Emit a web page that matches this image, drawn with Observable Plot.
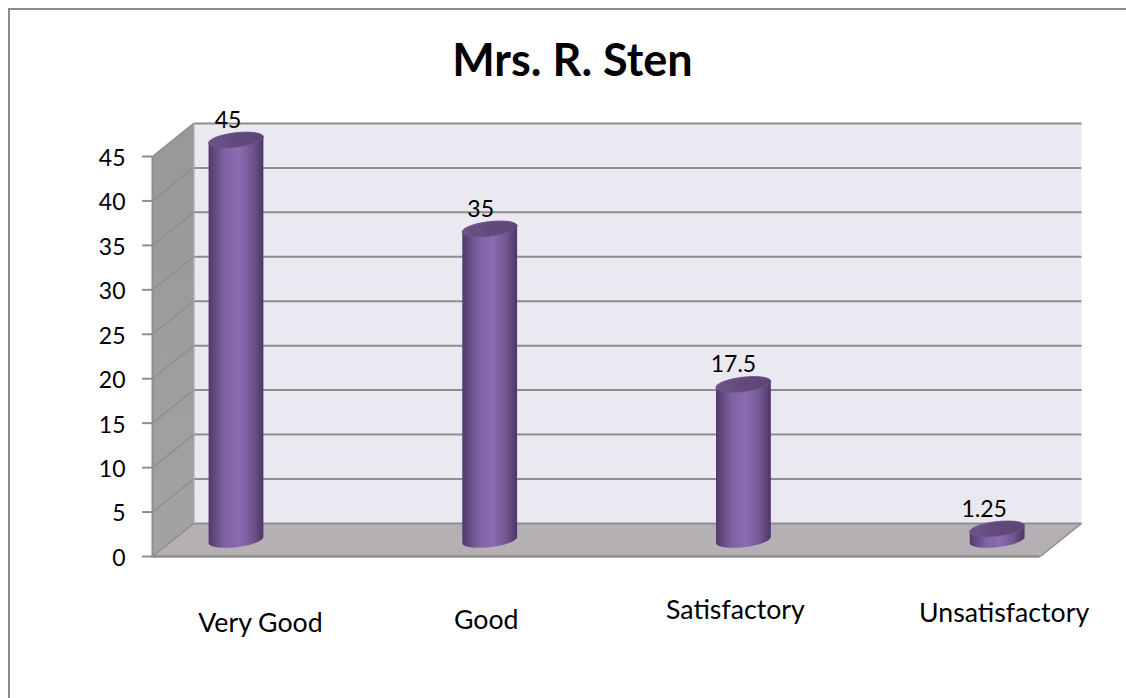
<!DOCTYPE html>
<html><head><meta charset="utf-8">
<script src="https://cdn.jsdelivr.net/npm/d3@7"></script>
<script src="https://cdn.jsdelivr.net/npm/@observablehq/plot@0.6"></script>
<style>
html,body{margin:0;padding:0;background:#fff;overflow:hidden}
#page{position:relative;width:1126px;height:698px}
#edge{position:absolute;left:8px;top:8px;right:0;bottom:0;border-left:2px solid #8a8a8a;border-top:2px solid #8a8a8a}
#chart{position:absolute;left:0;top:0}
svg{display:block}
</style></head><body>
<div id="page"><div id="chart"></div><div id="edge"></div></div>
<script>
const chartTitle = "Mrs. R. Sten";
const categories = ["Very Good", "Good", "Satisfactory", "Unsatisfactory"];
const values = [45, 35, 17.5, 1.25];
const valueLabels = ["45", "35", "17.5", "1.25"];
const yTicks = [0, 5, 10, 15, 20, 25, 30, 35, 40, 45];

// 3-D box, in data units (x: category index, y: value)
const xL = -0.329, xR = 3.17;
const depthX = 0.1625, depthY = 3.72;
const yMax = 45;
const rx = 0.108, ryV = 0.82, tilt = 0.34;
const midY = depthY / 2;

const poly = pts => pts.map(([x, y]) => ({x, y}));
const thetas = d3.range(0, 73).map(i => i * Math.PI / 36);
const ell = (cx, cy, t) => ({x: cx + rx * Math.cos(t), y: cy + tilt * Math.cos(t) + ryV * Math.sin(t)});
const cap = (i, v) => thetas.map(t => ell(i, v + midY, t));
const body = (i, v) => {
  const lower = thetas.filter(t => t >= Math.PI).map(t => ell(i, midY, t));
  const upper = thetas.filter(t => t <= Math.PI).map(t => ell(i, v + midY, t));
  return [...upper, ...lower];
};

const defs = () => {
  const d = d3.create("svg:defs");
  const grad = (id, stops) => {
    const g = d.append("linearGradient").attr("id", id).attr("x1", 0).attr("x2", 1).attr("y1", 0).attr("y2", 0);
    stops.forEach(([o, c]) => g.append("stop").attr("offset", o).attr("stop-color", c));
  };
  grad("cyl", [[0, "#4f3a6a"], [0.1, "#60497e"], [0.3, "#8062a4"], [0.55, "#8c6bb1"], [0.78, "#745894"], [1, "#4c3766"]]);
  grad("capg", [[0, "#6d5489"], [0.5, "#62497d"], [1, "#5d4677"]]);
  const w = d.append("linearGradient").attr("id", "wall").attr("x1", 0).attr("x2", 0).attr("y1", 0).attr("y2", 1);
  [[0, "#989898"], [1, "#a4a2a4"]].forEach(([o, c]) => w.append("stop").attr("offset", o).attr("stop-color", c));
  return d.node();
};

const gridStroke = "#8e8e8e";
const txt = {fontFamily: "Lato, 'Open Sans', sans-serif"};
const labelShift = {dx: [24.5, -3.5, -8, 7], dy: [67, 64, 54, 57]};
const valueShift = [-8, -9, -10, -13];

const plot = Plot.plot({
  width: 1126, height: 698,
  marginLeft: 0, marginRight: 0, marginTop: 0, marginBottom: 0,
  x: {type: "linear", domain: [xL, xR + depthX], range: [152, 1081], axis: null},
  y: {type: "linear", domain: [0, yMax], range: [556, 156], axis: null},
  style: {background: "transparent", ...txt},
  marks: [
    defs,
    // back wall, side wall, floor
    Plot.line(poly([[xL + depthX, depthY], [xR + depthX, depthY], [xR + depthX, yMax + depthY], [xL + depthX, yMax + depthY]]), {x: "x", y: "y", fill: "#eae8f0", stroke: "none"}),
    Plot.line(poly([[xL, 0], [xL + depthX, depthY], [xL + depthX, yMax + depthY], [xL, yMax]]), {x: "x", y: "y", fill: "url(#wall)", stroke: "none"}),
    Plot.line(poly([[xL, 0], [xR, 0], [xR + depthX, depthY], [xL + depthX, depthY]]), {x: "x", y: "y", fill: "#b5b0b4", stroke: "none"}),
    // gridlines across side wall and back wall
    Plot.link(yTicks, {x1: xL, y1: d => d, x2: xL + depthX, y2: d => d + depthY, stroke: gridStroke, strokeWidth: 1.5}),
    Plot.link(yTicks, {x1: xL + depthX, y1: d => d + depthY, x2: xR + depthX, y2: d => d + depthY, stroke: gridStroke, strokeWidth: 2}),
    Plot.link([0], {x1: xR, y1: 0, x2: xR + depthX, y2: depthY, stroke: gridStroke, strokeWidth: 1.5}),
    Plot.link([0], {x1: xL + depthX, y1: depthY, x2: xL + depthX, y2: yMax + depthY, stroke: "#a6a6a6", strokeWidth: 1.5}),
    // front axis lines and ticks
    Plot.ruleX([xL], {y1: 0, y2: yMax, stroke: gridStroke, strokeWidth: 2}),
    Plot.ruleY([0], {x1: xL, x2: xR, stroke: gridStroke, strokeWidth: 2.5}),
    Plot.ruleY(yTicks, {x1: xL - 0.039, x2: xL, stroke: gridStroke, strokeWidth: 2}),
    Plot.text(yTicks, {x: xL, y: d => d, text: d => String(d), textAnchor: "end", dx: -27, dy: 2, fontSize: 23, fill: "#000"}),
    // cylinders
    ...values.map((v, i) => Plot.line(body(i, v), {x: "x", y: "y", fill: "url(#cyl)", stroke: "none"})),
    ...values.map((v, i) => Plot.line(cap(i, v), {x: "x", y: "y", fill: "url(#capg)", stroke: "#6f5a8a", strokeWidth: 0.8})),
    // value labels
    ...values.map((v, i) => Plot.text([v], {x: i, y: d => d, text: () => valueLabels[i], dx: valueShift[i], dy: -36, fontSize: 23, fill: "#000"})),
    // category labels
    ...categories.map((c, i) => Plot.text([c], {x: i, y: 0, text: d => d, dx: labelShift.dx[i], dy: labelShift.dy[i], fontSize: 26.7, fill: "#000"})),
    // title
    Plot.text([chartTitle], {x: 1.33, y: yMax + 10.75, text: d => d, dx: -1, dy: 1, fontSize: 45, fontWeight: 700, fill: "#000"})
  ]
});
document.getElementById("chart").appendChild(plot);
</script>
</body></html>
